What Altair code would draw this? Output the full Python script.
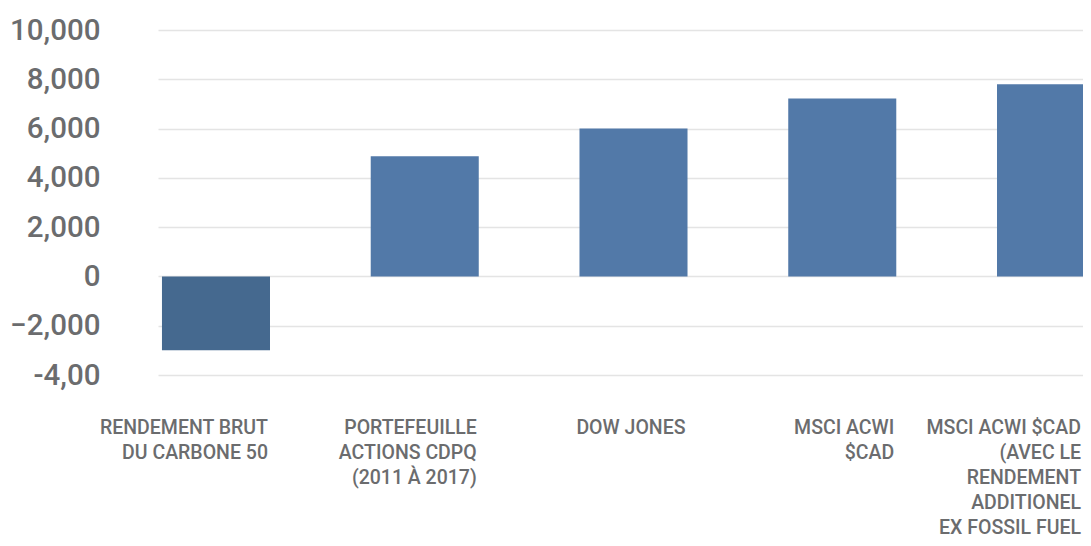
import altair as alt
import pandas as pd

categories = [
    "RENDEMENT BRUT|DU CARBONE 50",
    "PORTEFEUILLE|ACTIONS CDPQ|(2011 À 2017)",
    "DOW JONES",
    "MSCI ACWI|$CAD",
    "MSCI ACWI $CAD|(AVEC LE|RENDEMENT|ADDITIONEL|EX FOSSIL FUEL",
]
values = [-3000, 4880, 6000, 7220, 7800]
y_ticks = [-4000, -2000, 0, 2000, 4000, 6000, 8000, 10000]

df = pd.DataFrame({"cat": categories, "value": values})

TXT = "#6b6c6e"
FONT = "Roboto"

chart = (
    alt.Chart(df)
    .mark_bar()
    .encode(
        x=alt.X(
            "cat:N",
            sort=None,
            title=None,
            scale=alt.Scale(range=[0, 951], paddingInner=0.4825, paddingOuter=0.019),
            axis=alt.Axis(
                labelExpr="split(datum.label, '|')",
                labelAngle=0,
                labelAlign="right",
                labelBaseline="top",
                labelOffset={
                    "condition": {"test": "indexof(datum.value, 'FOSSIL') >= 0", "value": 30},
                    "value": 52,
                },
                labelPadding=43,
                labelLineHeight=25,
                labelFontSize=19.5,
                labelFont=FONT,
                labelFontWeight=500,
                labelColor=TXT,
                labelLimit=400,
                ticks=False,
                domain=False,
                grid=False,
            ),
        ),
        y=alt.Y(
            "value:Q",
            title=None,
            scale=alt.Scale(domain=[-4000, 10000], nice=False),
            axis=alt.Axis(
                values=y_ticks,
                labelExpr="datum.value == -4000 ? '-4,00' : format(datum.value, ',')",
                labelFontSize=29.5,
                labelFont=FONT,
                labelFontWeight=500,
                labelColor=TXT,
                labelPadding=58,
                ticks=False,
                domain=False,
                grid=True,
                gridColor="#e4e4e4",
                gridWidth=1.5,
            ),
        ),
        color=alt.condition(alt.datum.value < 0, alt.value("#45698f"), alt.value("#5279a8")),
    )
    .properties(
        width=925,
        height=345,
        background="white",
        autosize=alt.AutoSizeParams(type="none"),
        padding={"left": 150, "top": 22, "right": 0, "bottom": 163},
    )
    .configure_view(strokeWidth=0)
)

chart.save("out.html", embed_options={"renderer": "svg", "actions": False})
